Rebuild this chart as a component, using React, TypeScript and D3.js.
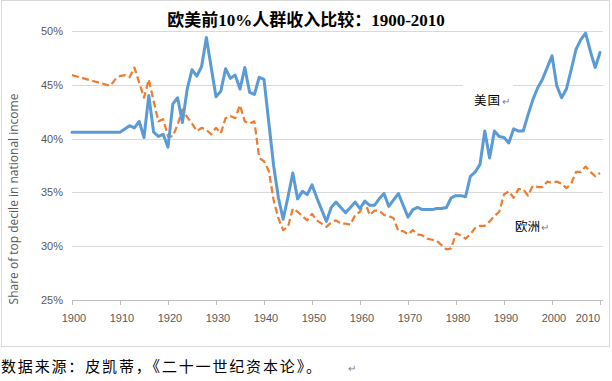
import React from "react";
import * as d3 from "d3";

const title = "欧美前10%人群收入比较：1900-2010";
const yAxisTitle = "Share of top decile in national income";
const footer = "数据来源：皮凯蒂，《二十一世纪资本论》。";
const usLabel = "美国";
const euLabel = "欧洲";

const xTicks = [1900, 1910, 1920, 1930, 1940, 1950, 1960, 1970, 1980, 1990, 2000, 2010];
const yTicks = [25, 30, 35, 40, 45, 50];

const usYears = [1900, 1910, 1911, 1912, 1913, 1914, 1915, 1916, 1917, 1918, 1919, 1920,
  1921, 1922, 1923, 1924, 1925, 1926, 1927, 1928, 1929, 1930, 1931, 1932, 1933, 1934, 1935,
  1936, 1937, 1938, 1939, 1940, 1941, 1942, 1943, 1944, 1945, 1946, 1947, 1948, 1949, 1950,
  1951, 1952, 1953, 1954, 1955, 1956, 1957, 1958, 1959, 1960, 1961, 1962, 1963, 1964, 1965,
  1966, 1967, 1968, 1969, 1970, 1971, 1972, 1973, 1974, 1975, 1976, 1977, 1978, 1979, 1980,
  1981, 1982, 1983, 1984, 1985, 1986, 1987, 1988, 1989, 1990, 1991, 1992, 1993, 1994, 1995,
  1996, 1997, 1998, 1999, 2000, 2001, 2002, 2003, 2004, 2005, 2006, 2007, 2008, 2009, 2010];
const usValues = [40.6, 40.6, 40.9, 41.2, 41.0, 41.6, 40.1, 44.0, 40.6, 40.2, 40.4, 39.2,
  43.2, 43.8, 41.5, 44.6, 46.4, 45.8, 46.7, 49.4, 46.6, 43.9, 44.4, 46.5, 45.6, 45.9, 44.6,
  46.6, 44.3, 44.1, 45.7, 45.5, 41.5, 37.5, 34.5, 32.5, 34.6, 36.8, 34.4, 35.1, 34.8, 35.7,
  34.5, 33.4, 32.3, 33.6, 34.1, 33.6, 33.1, 33.6, 34.1, 33.5, 34.2, 33.8, 33.8, 34.4, 34.9,
  33.7, 34.3, 34.9, 33.8, 32.7, 33.4, 33.6, 33.4, 33.4, 33.4, 33.5, 33.5, 33.6, 34.5, 34.7,
  34.7, 34.6, 36.5, 36.9, 37.6, 40.7, 38.2, 40.7, 40.2, 40.1, 39.6, 40.9, 40.7, 40.7, 42.2,
  43.6, 44.7, 45.5, 46.6, 47.7, 44.9, 43.8, 44.6, 46.4, 48.3, 49.2, 49.8, 48.1, 46.6, 48.0];

const euYears = [1900, 1908, 1909, 1910, 1911, 1912, 1913, 1914, 1915, 1916, 1917, 1918, 1919,
  1920, 1921, 1922, 1923, 1924, 1925, 1926, 1927, 1928, 1929, 1930, 1931, 1932, 1933, 1934,
  1935, 1936, 1937, 1938, 1939, 1940, 1941, 1942, 1943, 1944, 1945, 1946, 1947, 1948, 1949,
  1950, 1951, 1952, 1953, 1954, 1955, 1956, 1957, 1958, 1959, 1960, 1961, 1962, 1963, 1964,
  1965, 1966, 1967, 1968, 1969, 1970, 1971, 1972, 1973, 1974, 1975, 1976, 1977, 1978, 1979,
  1980, 1981, 1982, 1983, 1984, 1985, 1986, 1987, 1988, 1989, 1990, 1991, 1992, 1993, 1994,
  1995, 1996, 1997, 1998, 1999, 2000, 2001, 2002, 2003, 2004, 2005, 2006, 2007, 2008, 2009, 2010];
const euValues = [45.9, 44.9, 45.5, 45.8, 45.9, 45.7, 46.6, 45.2, 43.8, 45.5, 43.5, 41.6, 41.8,
  40.2, 40.2, 41.3, 42.7, 42.0, 41.4, 40.7, 41.0, 40.8, 40.4, 41.0, 40.5, 41.9, 42.1, 41.9,
  43.1, 41.6, 41.4, 41.6, 38.2, 37.9, 37.0, 34.3, 32.6, 31.5, 31.8, 33.5, 33.2, 32.8, 32.4,
  33.0, 32.4, 32.1, 31.8, 32.2, 32.4, 32.1, 32.1, 32.0, 32.9, 33.2, 34.2, 32.9, 33.3, 33.3,
  32.9, 32.8, 32.6, 31.4, 31.4, 31.1, 31.5, 31.1, 31.0, 30.7, 30.6, 30.5, 30.1, 29.7, 29.8,
  31.2, 31.0, 30.7, 31.1, 31.7, 31.9, 31.9, 32.3, 32.8, 33.2, 34.8, 35.1, 34.5, 35.3, 35.3,
  34.7, 35.6, 35.5, 35.5, 36.0, 35.9, 36.0, 35.8, 35.4, 35.8, 36.9, 36.9, 37.4, 36.9, 36.5, 36.8];

const W = 612;
const H = 381;
const plot = { left: 72, right: 600, top: 31, bottom: 300, gridRight: 603 };

export default function App() {
  const x = d3.scaleLinear().domain([1900, 2010]).range([plot.left, plot.right]);
  const y = d3.scaleLinear().domain([25, 50]).range([plot.bottom, plot.top]);

  const line = d3
    .line<[number, number]>()
    .x((d) => x(d[0]))
    .y((d) => y(d[1]));

  const usPts = usYears.map((yr, i) => [yr, usValues[i]] as [number, number]);
  const euPts = euYears.map((yr, i) => [yr, euValues[i]] as [number, number]);

  const axisFont = "'Liberation Sans', Arial, sans-serif";
  const cjkFont = "'Noto Sans CJK SC', sans-serif";

  return (
    <div style={{ position: "absolute", left: 0, top: 0, width: W, height: H, background: "#fff" }}>
      <svg width={W} height={H} viewBox={`0 0 ${W} ${H}`}>
        <rect x={0} y={0} width={W} height={H} fill="#fff" />
        <rect x={1.5} y={0.5} width={608} height={346} fill="#fff" stroke="#D9D9D9" strokeWidth={1} />

        {/* gridlines */}
        {yTicks.filter((t) => t !== 25).map((t) => (
          <line key={t} x1={plot.left} x2={plot.gridRight} y1={Math.round(y(t)) + 0.5} y2={Math.round(y(t)) + 0.5}
            stroke="#D9D9D9" strokeWidth={1} />
        ))}
        {/* x axis */}
        <line x1={plot.left} x2={plot.gridRight} y1={Math.round(y(25)) + 0.5} y2={Math.round(y(25)) + 0.5}
          stroke="#BFBFBF" strokeWidth={1} />
        {xTicks.map((t) => (
          <line key={t} x1={Math.round(x(t)) + 0.5} x2={Math.round(x(t)) + 0.5}
            y1={Math.round(y(25))} y2={Math.round(y(25)) + 5} stroke="#BFBFBF" strokeWidth={1} />
        ))}

        {/* y tick labels */}
        {yTicks.map((t) => (
          <text key={t} x={63} y={y(t) + 4} textAnchor="end" fontFamily={axisFont} fontSize={11} fill="#595959">
            {t}%
          </text>
        ))}
        {/* x tick labels */}
        {xTicks.map((t) => (
          <text key={t} x={Math.min(x(t) + 2, 588)} y={322} textAnchor="middle" fontFamily={axisFont} fontSize={11} fill="#595959">
            {t}
          </text>
        ))}

        {/* y axis title */}
        <text transform={`translate(18, 199) rotate(-90)`} textAnchor="middle" fontFamily="'Open Sans', sans-serif"
          fontSize={12} fill="#595959">
          {yAxisTitle}
        </text>

        {/* series */}
        <path d={line(euPts) || ""} fill="none" stroke="#ED7D31" strokeWidth={2.25} strokeDasharray="7 3.5"
          strokeLinejoin="round" />
        <path d={line(usPts) || ""} fill="none" stroke="#5B9BD5" strokeWidth={3} strokeLinejoin="round"
          strokeLinecap="round" />

        {/* labels */}
        <rect x={463} y={84} width={50} height={30} fill="#fff" />
        <text x={474} y={105} fontFamily={cjkFont} fontSize={12.5} fill="#000" letterSpacing={1}>{usLabel}</text>
        <text x={502} y={105} fontFamily={cjkFont} fontSize={10} fill="#808080">↵</text>
        <text x={515} y={231} fontFamily={cjkFont} fontSize={12.5} fill="#000">{euLabel}</text>
        <text x={541} y={231} fontFamily={cjkFont} fontSize={10} fill="#808080">↵</text>

        {/* title */}
        <text x={306} y={26} textAnchor="middle" fontFamily="'Liberation Serif', 'Noto Sans CJK SC', serif"
          fontWeight="bold" fontSize={17} fill="#000">
          {title}
        </text>

        {/* footer */}
        <text x={1} y={372} fontFamily={cjkFont} fontSize={15} fill="#000" textLength={320} lengthAdjust="spacing">{footer}</text>
        <text x={348} y={372} fontFamily={cjkFont} fontSize={10} fill="#808080">↵</text>
      </svg>
    </div>
  );
}
